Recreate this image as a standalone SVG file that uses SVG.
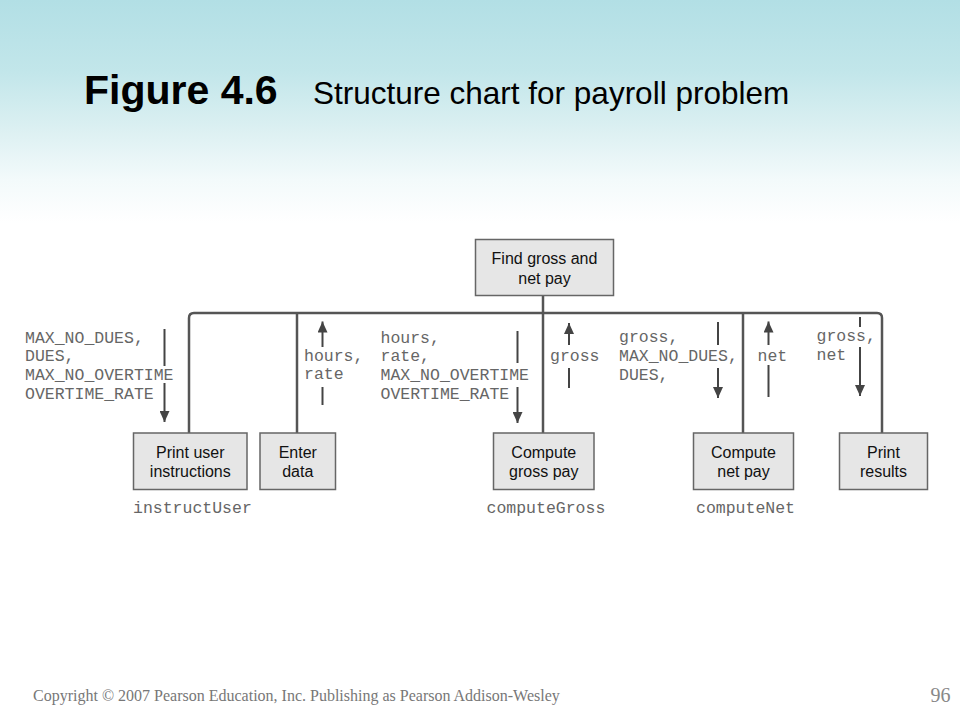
<svg xmlns="http://www.w3.org/2000/svg" width="960" height="720" viewBox="0 0 960 720">
<defs>
<linearGradient id="bg" x1="0" y1="0" x2="0" y2="1">
<stop offset="0" stop-color="#b2dfe5"/>
<stop offset="0.1" stop-color="#c2e6ea"/>
<stop offset="0.18" stop-color="#dcf0f2"/>
<stop offset="0.25" stop-color="#f3fafb"/>
<stop offset="0.31" stop-color="#ffffff"/>
<stop offset="1" stop-color="#ffffff"/>
</linearGradient>
<marker id="ah" markerUnits="userSpaceOnUse" markerWidth="12" markerHeight="10" viewBox="0 0 12 10" refX="11" refY="5" orient="auto">
<path d="M0,0 L11,5 L0,10 Z" fill="#444"/>
</marker>
</defs>
<style>
.box{fill:#e6e6e6;stroke:#666;stroke-width:1.5}
.lbl{font-family:"Liberation Sans",Arial,sans-serif;font-size:16px;fill:#111;text-anchor:middle}
.mono{font-family:"Liberation Mono","Courier New",monospace;font-size:16.5px;fill:#666}
.conn{fill:none;stroke:#555;stroke-width:2.5}
.flow{fill:none;stroke:#444;stroke-width:2}
</style>
<rect x="0" y="0" width="960" height="720" fill="url(#bg)"/>
<text x="84" y="103.5" font-family="Liberation Sans,Arial,sans-serif" font-weight="bold" font-size="41" fill="#000">Figure 4.6</text>
<text x="313" y="104" font-family="Liberation Sans,Arial,sans-serif" font-size="31.5" fill="#000">Structure chart for payroll problem</text>

<g id="connectors">
<path class="conn" d="M189,433 V318 Q189,313 194,313 H877 Q882,313 882,318 V433"/>
<path class="conn" d="M297,313 V433"/>
<path class="conn" d="M543,296 V433"/>
<path class="conn" d="M743,313 V433"/>
</g>

<g id="flows">
<path class="flow" d="M164.5,329 V366"/>
<path class="flow" d="M164.5,383 V422" marker-end="url(#ah)"/>
<path class="flow" d="M322.5,347 V321.5" marker-end="url(#ah)"/>
<path class="flow" d="M322.5,387 V405"/>
<path class="flow" d="M517.5,331 V363"/>
<path class="flow" d="M517.5,387 V423" marker-end="url(#ah)"/>
<path class="flow" d="M569,345 V323" marker-end="url(#ah)"/>
<path class="flow" d="M569,368 V388"/>
<path class="flow" d="M718,322 V345"/>
<path class="flow" d="M718,368 V398" marker-end="url(#ah)"/>
<path class="flow" d="M768.5,345 V321.5" marker-end="url(#ah)"/>
<path class="flow" d="M768.5,365 V397"/>
<path class="flow" d="M860,317 V327"/>
<path class="flow" d="M860,347 V396" marker-end="url(#ah)"/>
</g>

<g id="flow-labels">
<text class="mono" x="25" y="342.7">MAX_NO_DUES,</text>
<text class="mono" x="25" y="361.3">DUES,</text>
<text class="mono" x="25" y="380">MAX_NO_OVERTIME</text>
<text class="mono" x="25" y="398.7">OVERTIME_RATE</text>
<text class="mono" x="304" y="360.7">hours,</text>
<text class="mono" x="304" y="379.3">rate</text>
<text class="mono" x="380.5" y="342.7">hours,</text>
<text class="mono" x="380.5" y="361.3">rate,</text>
<text class="mono" x="380.5" y="380">MAX_NO_OVERTIME</text>
<text class="mono" x="380.5" y="398.7">OVERTIME_RATE</text>
<text class="mono" x="550" y="360.7">gross</text>
<text class="mono" x="619" y="342">gross,</text>
<text class="mono" x="619" y="361">MAX_NO_DUES,</text>
<text class="mono" x="619" y="380">DUES,</text>
<text class="mono" x="757.5" y="360.7">net</text>
<text class="mono" x="816.5" y="341">gross,</text>
<text class="mono" x="816.5" y="360">net</text>
</g>

<g id="node-main">
<rect class="box" x="475.5" y="239.5" width="138" height="56"/>
<text class="lbl" x="544.5" y="264">Find gross and</text>
<text class="lbl" x="544.5" y="284">net pay</text>
</g>
<g id="node-instructUser">
<rect class="box" x="133.5" y="433" width="113.5" height="56.5"/>
<text class="lbl" x="190.3" y="458">Print user</text>
<text class="lbl" x="190.3" y="477">instructions</text>
<text class="mono" x="133" y="513">instructUser</text>
</g>
<g id="node-enterData">
<rect class="box" x="260" y="433" width="75.5" height="56.5"/>
<text class="lbl" x="297.8" y="458">Enter</text>
<text class="lbl" x="297.8" y="477">data</text>
</g>
<g id="node-computeGross">
<rect class="box" x="493.5" y="433" width="100.5" height="56.5"/>
<text class="lbl" x="543.8" y="458">Compute</text>
<text class="lbl" x="543.8" y="477">gross pay</text>
<text class="mono" x="486.5" y="513">computeGross</text>
</g>
<g id="node-computeNet">
<rect class="box" x="693.5" y="433" width="100" height="56.5"/>
<text class="lbl" x="743.5" y="458">Compute</text>
<text class="lbl" x="743.5" y="477">net pay</text>
<text class="mono" x="696" y="513">computeNet</text>
</g>
<g id="node-printResults">
<rect class="box" x="839.5" y="433" width="88" height="56.5"/>
<text class="lbl" x="883.5" y="458">Print</text>
<text class="lbl" x="883.5" y="477">results</text>
</g>

<text x="33" y="701" font-family="Liberation Serif,Times New Roman,serif" font-size="16" fill="#777">Copyright © 2007 Pearson Education, Inc. Publishing as Pearson Addison-Wesley</text>
<text x="950.5" y="702" text-anchor="end" font-family="Liberation Serif,Times New Roman,serif" font-size="20" fill="#888">96</text>
</svg>
